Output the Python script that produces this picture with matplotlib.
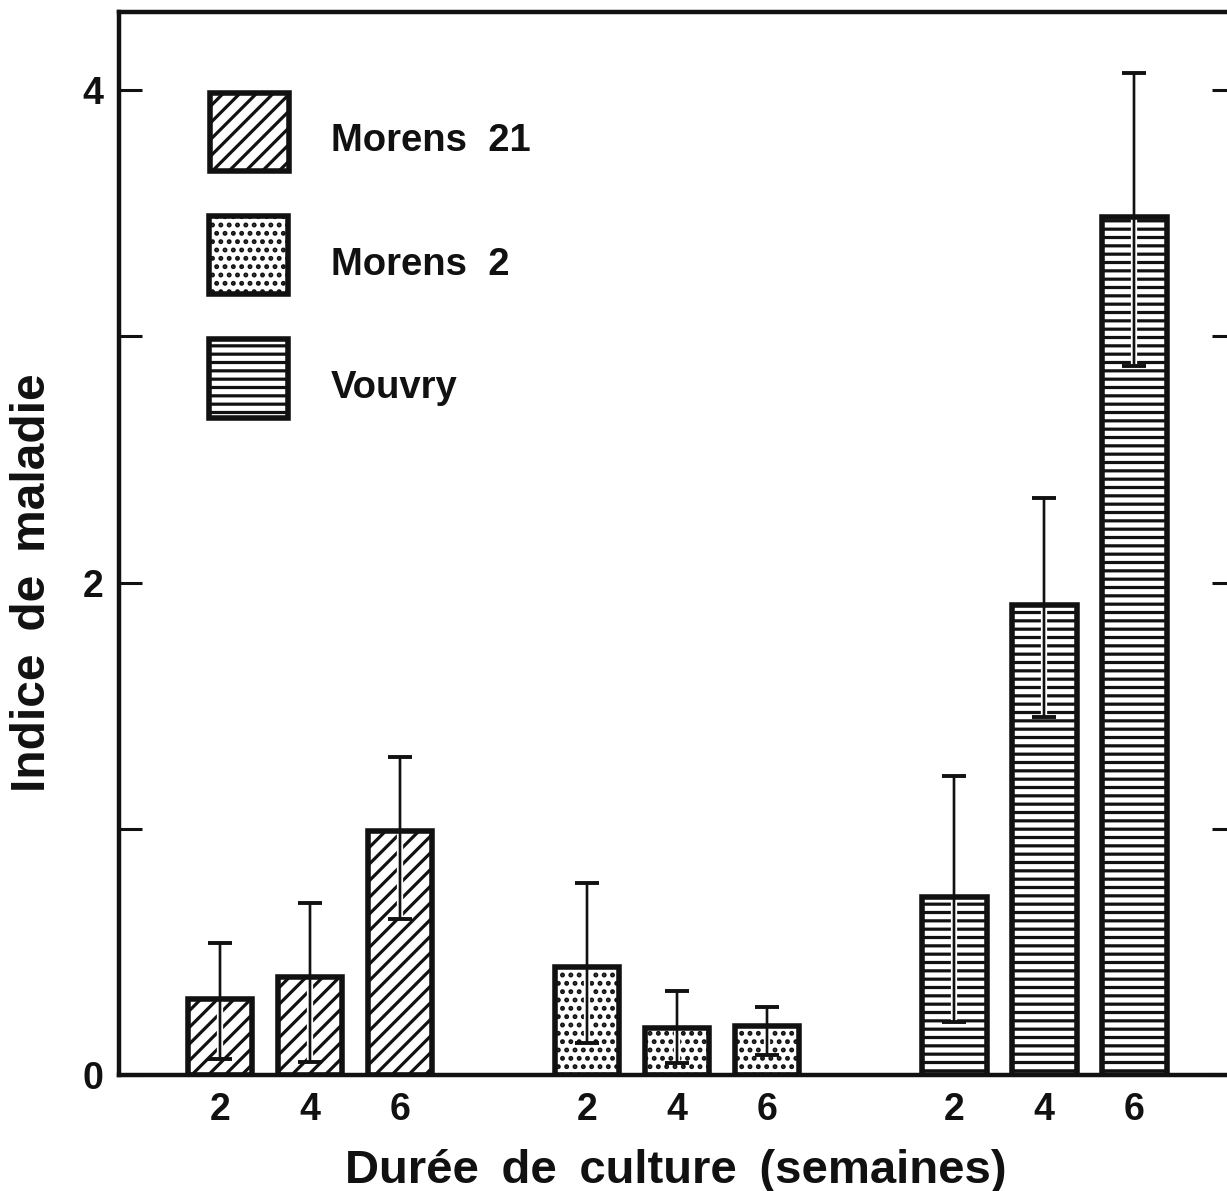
import matplotlib
matplotlib.use('Agg')
import matplotlib.pyplot as plt
import matplotlib.patheffects as pe
from matplotlib.patches import Rectangle
import numpy as np

# values (indice de maladie)
groups = ['Morens  21', 'Morens  2', 'Vouvry']
weeks = ['2', '4', '6']
hatches = ['//', '..', '--']

morens21 = [0.31, 0.40, 0.99]
morens21_lo = [0.065, 0.053, 0.634]
morens21_hi = [0.536, 0.698, 1.291]

morens2 = [0.44, 0.19, 0.20]
morens2_lo = [0.13, 0.049, 0.081]
morens2_hi = [0.78, 0.341, 0.276]

vouvry = [0.723, 1.909, 3.484]
vouvry_lo = [0.215, 1.454, 2.879]
vouvry_hi = [1.214, 2.343, 4.069]

means = [morens21, morens2, vouvry]
lows = [morens21_lo, morens2_lo, vouvry_lo]
highs = [morens21_hi, morens2_hi, vouvry_hi]

plt.rcParams['font.family'] = ['Liberation Sans', 'DejaVu Sans']
plt.rcParams['font.weight'] = 'bold'
plt.rcParams['hatch.linewidth'] = 2.3
plt.rcParams['hatch.color'] = 'black'

ink = '#111111'
W, H = 1227, 1191
fig = plt.figure(figsize=(W / 100, H / 100), dpi=100)
AX_L, AX_R, AX_T, AX_B = 119, 1235, 12, 1075
ax = fig.add_axes([AX_L / W, (H - AX_B) / H, (AX_R - AX_L) / W, (AX_B - AX_T) / H])

def pa(x, y):
    # pixel position -> axes fraction
    return (x - AX_L) / (AX_R - AX_L), (AX_B - y) / (AX_B - AX_T)

bw = 0.72
for g in range(3):
    x = g * 4.08 + np.arange(3)
    m = np.array(means[g])
    lo = m - np.array(lows[g])
    hi = np.array(highs[g]) - m
    ax.bar(x, m, width=bw, color='white', edgecolor=ink, linewidth=0,
           hatch=hatches[g], zorder=2)
    eb = ax.errorbar(x, m, yerr=[lo, hi], fmt='none', ecolor=ink,
                     elinewidth=1.7, capsize=8.5, capthick=2.8, zorder=3)
    for art in eb.lines[2]:
        art.set_path_effects([pe.withStroke(linewidth=4.5, foreground='white'), pe.Normal()])
    ax.bar(x, m, width=bw, fill=False, edgecolor=ink, linewidth=4, zorder=4)

ax.set_xlim(-1.122, 11.28)
ax.set_ylim(0, 4.317)

xt = np.concatenate([g * 4.08 + np.arange(3) for g in range(3)])
ax.set_xticks(xt)
ax.set_xticklabels(weeks * 3)
ax.set_yticks([0, 1, 2, 3, 4])
ax.set_yticklabels(['0', '', '2', '', '4'])

ax.tick_params(axis='x', length=0, pad=12, labelsize=27, colors=ink)
ax.tick_params(axis='y', direction='in', length=16.5, width=2.2, pad=11,
               labelsize=27, right=True, colors=ink)

for s in ax.spines.values():
    s.set_linewidth(3.2)
    s.set_color(ink)

sp = ' \u2009'
ax.set_xlabel(sp.join(['Durée', 'de', 'culture', '(semaines)']), fontsize=34,
              fontweight='bold', va='baseline', color=ink)
ax.xaxis.set_label_coords(*pa(676, 1183))
ax.set_ylabel(sp.join(['Indice', 'de', 'maladie']), fontsize=34.5,
              fontweight='bold', va='center', color=ink)
ax.yaxis.set_label_coords(*pa(33, 583))

# legend: hatched squares with labels
boxes = [(209.5, 92.5), (208.5, 215.5), (208.5, 339.5)]
baselines = [151, 275, 398]
for (bx, by), base, lab, h in zip(boxes, baselines, groups, hatches):
    x0, y1 = pa(bx, by)
    x1, y0 = pa(bx + 79, by + 78)
    ax.add_patch(Rectangle((x0, y0), x1 - x0, y1 - y0, transform=ax.transAxes,
                           facecolor='white', edgecolor=ink, linewidth=4,
                           hatch=h, zorder=5))
    tx, ty = pa(331, base)
    ax.text(tx, ty, lab, transform=ax.transAxes, fontsize=27.5, fontweight='bold',
            va='baseline', ha='left', color=ink)

fig.savefig('out.png', dpi=100, facecolor='white')
